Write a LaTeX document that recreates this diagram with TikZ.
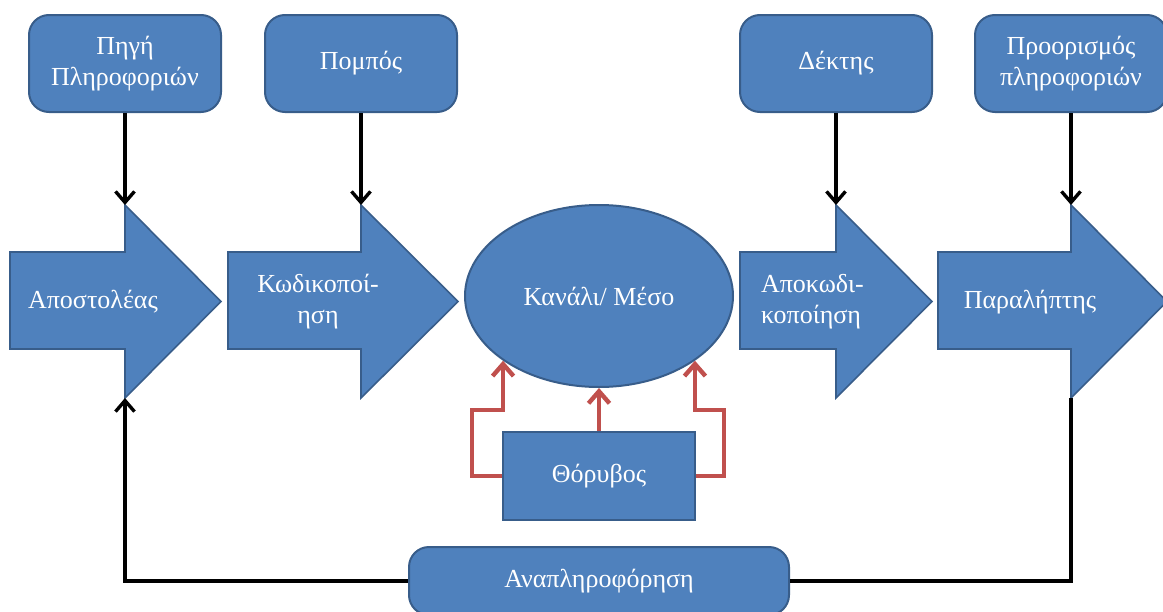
\documentclass[tikz,border=0pt]{standalone}
\usepackage{fontspec}
\setmainfont{Liberation Serif}
\usetikzlibrary{arrows.meta, positioning, calc, shapes.geometric}

\definecolor{boxblue}{HTML}{4F81BD}
\definecolor{boxedge}{HTML}{385D8A}
\definecolor{noisered}{HTML}{C0504D}

\tikzset{
  lbl/.style={text=white, align=center, font=\fontsize{13}{15.5}\selectfont},
  topbox/.style={lbl, draw=boxedge, line width=1pt, fill=boxblue, rounded corners=10pt,
    minimum width=96pt, minimum height=48.5pt, inner sep=2pt},
  blockarr/.style={draw=boxedge, line width=0.8pt, fill=boxblue},
  conn/.style={line width=1.7pt, -{Straight Barb[length=5.5pt,width=9.5pt,line width=1.7pt]}},
  fbline/.style={line width=1.7pt},
  noiseline/.style={draw=noisered, line width=2.2pt, -{Straight Barb[length=6pt,width=10.5pt,line width=2.2pt]}}
}

% block arrow: name, tail x, head x, tip x
\newcommand\blockarrow[4]{%
  \draw[blockarr] (#2,252) -- (#3,252) -- (#3,205) -- (#4,301.5) -- (#3,398) -- (#3,349) -- (#2,349) -- cycle;
  \coordinate (#1-top) at (#3,205);
  \coordinate (#1-bot) at (#3,398);
}

\begin{document}
\begin{tikzpicture}[x=0.5pt, y=-0.5pt]
\useasboundingbox (0,0) rectangle (1163,611);

% top boxes
\node[topbox] (src) at (125,63.5) {Πηγή\\Πληροφοριών};
\node[topbox] (tx) at (361,63.5) {Πομπός};
\node[topbox] (rx) at (836,63.5) {Δέκτης};
\node[topbox] (dst) at (1071,63.5) {Προορισμός\\πληροφοριών};

% block arrows
\blockarrow{sender}{10}{125}{221}
\blockarrow{enc}{228}{361}{458}
\blockarrow{dec}{740}{836}{932}
\blockarrow{recv}{938}{1071}{1167}

\node[lbl] (senderlbl) at (93,302) {Αποστολέας};
\node[lbl] (enclbl) at (318,302) {Κωδικοποί-\\ηση};
\node[lbl, align=left, anchor=west] (declbl) at (754,302) {Αποκωδι-\\κοποίηση};
\node[lbl] (recvlbl) at (1030,302) {Παραλήπτης};

% channel and noise
\node[lbl, ellipse, draw=boxedge, line width=1pt, fill=boxblue,
  minimum width=134pt, minimum height=91pt] (chan) at (599,296) {Κανάλι/ Μέσο};
\node[lbl, draw=boxedge, line width=1pt, fill=boxblue,
  minimum width=96pt, minimum height=44pt] (noise) at (599,476) {Θόρυβος};

\draw[noiseline] (noise.north) -- (chan.south);
\draw[noiseline] (noise.west) -- ++(-30,0) |- ($(chan.214)+(0,49)$) -- (chan.214);
\draw[noiseline] (noise.east) -- ++(28,0) |- ($(chan.326)+(0,49)$) -- (chan.326);

% feedback
\node[topbox, minimum width=190pt, minimum height=34pt] (fb) at (599,581) {Αναπληροφόρηση};

% connectors
\draw[conn] (src) -- (sender-top);
\draw[conn] (tx) -- (enc-top);
\draw[conn] (rx) -- (dec-top);
\draw[conn] (dst) -- (recv-top);
\draw[fbline] (recv-bot) |- (fb.east);
\draw[conn] (fb.west) -| (sender-bot);
\end{tikzpicture}
\end{document}
